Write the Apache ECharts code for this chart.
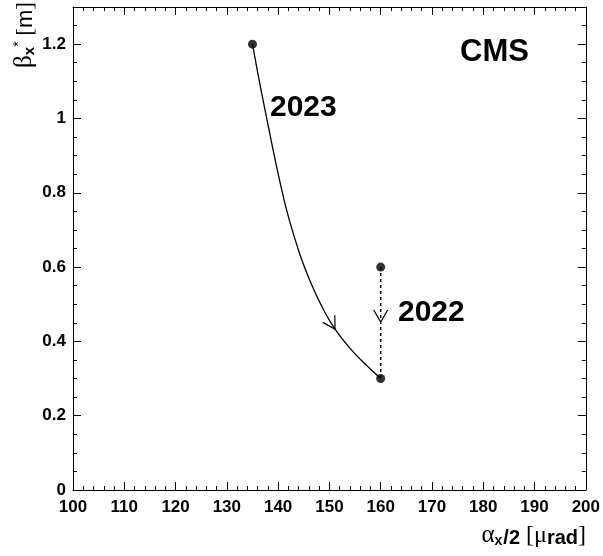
<!DOCTYPE html>
<html>
<head>
<meta charset="utf-8">
<script src="https://cdn.jsdelivr.net/npm/echarts@6/dist/echarts.min.js"></script>
<style>
html,body{margin:0;padding:0;background:#fff;}
#chart{width:603px;height:556px;}
</style>
</head>
<body>
<div id="chart"></div>
<script>
// ---- data ----
const curve2023X = [135, 137.08, 141.17, 144.05, 146.43, 149.0, 151.1, 153.85, 156.82, 160];
const curve2023Y = [1.2, 1.048, 0.78, 0.642, 0.556, 0.481, 0.433, 0.384, 0.341, 0.30];
const line2022X = [160, 160];
const line2022Y = [0.6, 0.3];
const dotsX = [135, 160, 160];
const dotsY = [1.2, 0.6, 0.3];
// arrow tip positions and the point each arrow comes from (direction)
const arrowTipX = [151.1, 160];
const arrowTipY = [0.433, 0.452];
const arrowFromX = [149.0, 160];
const arrowFromY = [0.481, 0.6];
const xTicks = [100, 110, 120, 130, 140, 150, 160, 170, 180, 190, 200];
const yTicks = [0, 0.2, 0.4, 0.6, 0.8, 1, 1.2];

const zip = (a, b) => a.map((v, i) => [v, b[i]]);

const chart = echarts.init(document.getElementById('chart'), null, {renderer: 'canvas'});

const font = 'Liberation Sans, Arial, Helvetica, sans-serif';
const serif = 'Liberation Serif, Times New Roman, serif';

const baseX = {
  type: 'value', min: xTicks[0], max: xTicks[xTicks.length - 1], interval: 10,
  axisLine: {show: true, onZero: false, lineStyle: {color: '#000', width: 1}},
  axisTick: {show: true, inside: true, length: 8, lineStyle: {color: '#000'}},
  minorTick: {show: true, splitNumber: 5, length: 4, lineStyle: {color: '#000'}},
  splitLine: {show: false}, minorSplitLine: {show: false}
};
const baseY = {
  type: 'value', min: 0, max: 1.3, interval: 0.2,
  axisLine: {show: true, onZero: false, lineStyle: {color: '#000', width: 1}},
  axisTick: {show: true, inside: true, length: 8, lineStyle: {color: '#000'}},
  splitLine: {show: false}
};
const minorY = {
  type: 'value', min: 0, max: 1.3, interval: 0.05,
  axisLine: {show: false},
  axisTick: {show: true, inside: true, length: 4, lineStyle: {color: '#000'}},
  axisLabel: {show: false},
  splitLine: {show: false}
};

const option = {
  backgroundColor: '#fff',
  animation: false,
  grid: {left: 73, top: 7, right: 17, bottom: 66, containLabel: false},
  xAxis: [
    Object.assign({}, baseX, {position: 'bottom',
      axisLabel: {show: true, color: '#000', fontFamily: font, fontWeight: 'bold', fontSize: 17, margin: 9}}),
    Object.assign({}, baseX, {position: 'top', axisLabel: {show: false}})
  ],
  yAxis: [
    Object.assign({}, baseY, {position: 'left',
      axisLabel: {show: true, color: '#000', fontFamily: font, fontWeight: 'bold', fontSize: 17, margin: 7,
        showMaxLabel: false,
        formatter: v => (yTicks.some(t => Math.abs(t - v) < 1e-9) ? String(+v.toFixed(2)) : '')}}),
    Object.assign({}, minorY, {position: 'left'}),
    Object.assign({}, baseY, {position: 'right', axisLabel: {show: false}}),
    Object.assign({}, minorY, {position: 'right'})
  ],
  series: [
    {
      name: '2023', type: 'line', xAxisIndex: 0, yAxisIndex: 0,
      data: zip(curve2023X, curve2023Y), smooth: 0.4, showSymbol: false,
      lineStyle: {color: '#000', width: 1.3}
    },
    {
      name: '2022', type: 'line', xAxisIndex: 0, yAxisIndex: 0,
      data: zip(line2022X, line2022Y), showSymbol: false,
      lineStyle: {color: '#000', width: 1.5, type: [3, 3]}
    },
    {
      name: 'dots', type: 'scatter', xAxisIndex: 0, yAxisIndex: 0,
      data: zip(dotsX, dotsY), symbol: 'circle', symbolSize: 9,
      itemStyle: {color: '#000'}
    },
    {
      name: 'arrows', type: 'custom', xAxisIndex: 0, yAxisIndex: 0,
      data: arrowTipX.map((x, i) => [x, arrowTipY[i], arrowFromX[i], arrowFromY[i]]),
      renderItem: function (params, api) {
        const tip = api.coord([api.value(0), api.value(1)]);
        const from = api.coord([api.value(2), api.value(3)]);
        let dx = tip[0] - from[0], dy = tip[1] - from[1];
        const len = Math.sqrt(dx * dx + dy * dy) || 1;
        dx /= len; dy /= len;
        const L = 14, a = 30 * Math.PI / 180;
        const bx = -dx, by = -dy;
        const w1 = [tip[0] + L * (bx * Math.cos(a) - by * Math.sin(a)), tip[1] + L * (bx * Math.sin(a) + by * Math.cos(a))];
        const w2 = [tip[0] + L * (bx * Math.cos(-a) - by * Math.sin(-a)), tip[1] + L * (bx * Math.sin(-a) + by * Math.cos(-a))];
        return {
          type: 'polyline',
          shape: {points: [w1, tip, w2]},
          style: {stroke: '#000', fill: null, lineWidth: 1.2}
        };
      }
    }
  ],
  graphic: [
    {type: 'text', x: 460, y: 52, style: {text: 'CMS', font: 'bold 31px ' + font, fill: '#000', verticalAlign: 'middle', align: 'left'}},
    {type: 'text', x: 270, y: 108, style: {text: '2023', font: 'bold 30px ' + font, fill: '#000', verticalAlign: 'middle', align: 'left'}},
    {type: 'text', x: 398, y: 313, style: {text: '2022', font: 'bold 30px ' + font, fill: '#000', verticalAlign: 'middle', align: 'left'}},
    {
      type: 'text', x: 586, y: 548,
      style: {
        text: '{g|α}{sub|x}{b|/2}{s| [μ}{b|rad}{s|]}',
        align: 'right', verticalAlign: 'bottom', fill: '#000',
        rich: {
          g: {fontFamily: serif, fontSize: 25, fill: '#000', verticalAlign: 'bottom'},
          sub: {fontFamily: font, fontWeight: 'bold', fontSize: 14, fill: '#000', verticalAlign: 'bottom', padding: [0, 1, 0, 0]},
          b: {fontFamily: font, fontWeight: 'bold', fontSize: 20, fill: '#000', verticalAlign: 'bottom'},
          s: {fontFamily: serif, fontSize: 24, fill: '#000', verticalAlign: 'bottom'}
        }
      }
    },
    {
      type: 'text', x: 37, y: 2, rotation: Math.PI / 2,
      style: {
        text: '{g|β}{sub|x}{sup|*}{s| [}{b|m}{s|]}',
        align: 'right', verticalAlign: 'bottom', fill: '#000',
        rich: {
          g: {fontFamily: serif, fontSize: 25, fill: '#000', verticalAlign: 'bottom'},
          sub: {fontFamily: font, fontWeight: 'bold', fontSize: 15, fill: '#000', verticalAlign: 'bottom'},
          sup: {fontFamily: font, fontSize: 14, fill: '#000', verticalAlign: 'top'},
          b: {fontFamily: font, fontSize: 22, fill: '#000', verticalAlign: 'bottom'},
          s: {fontFamily: serif, fontSize: 23, fill: '#000', verticalAlign: 'bottom'}
        }
      }
    }
  ]
};
chart.setOption(option);
</script>
</body>
</html>
